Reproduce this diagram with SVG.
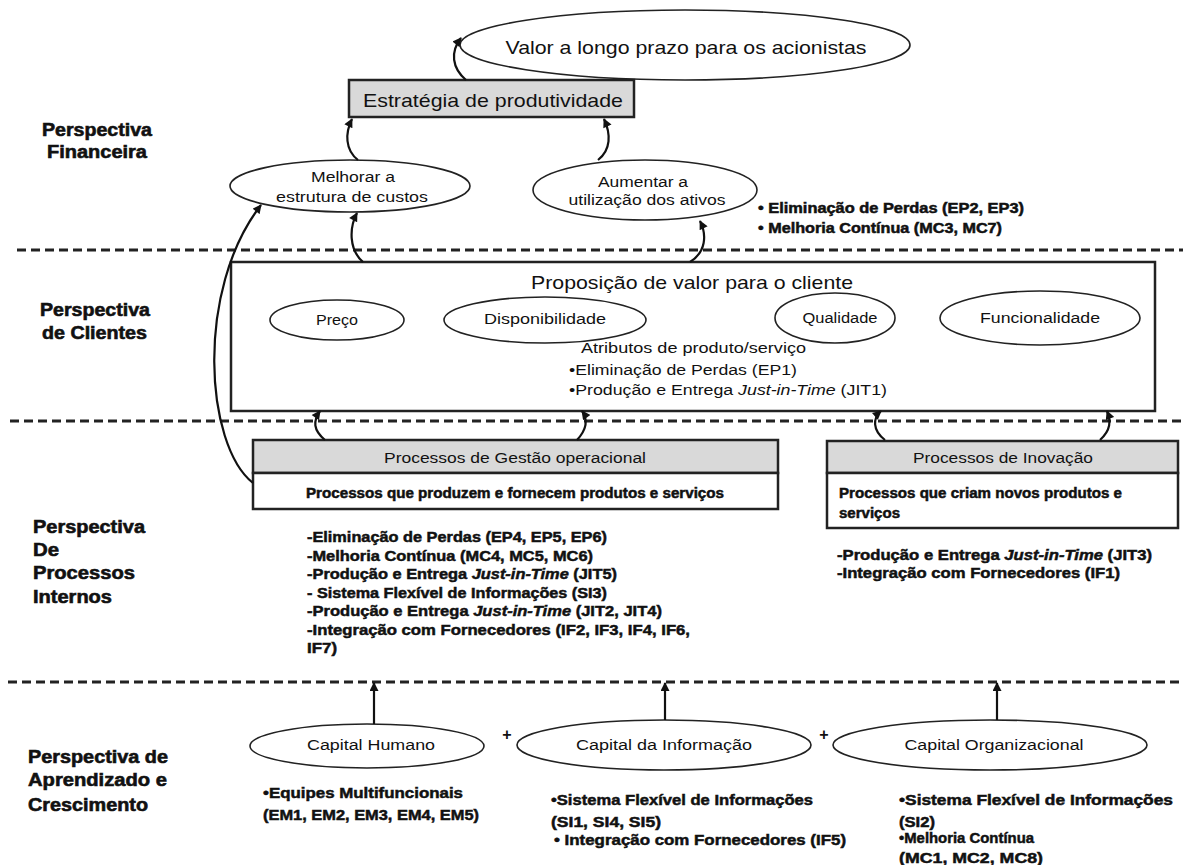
<svg xmlns="http://www.w3.org/2000/svg" width="1183" height="865" viewBox="0 0 1183 865">
<defs>
<marker id="ah" viewBox="0 0 10 10" refX="9" refY="5" markerWidth="10" markerHeight="9" markerUnits="userSpaceOnUse" orient="auto">
<path d="M0,0 L10,5 L0,10 z" fill="#111"/>
</marker>
<style>
text{font-family:"Liberation Sans",Arial,sans-serif;fill:#111}
.lbl{font-size:18px;font-weight:bold;stroke:#111;stroke-width:0.6}
.reg{font-size:14px}
.big{font-size:19px}
.b{font-size:15px;font-weight:bold;stroke:#111;stroke-width:0.5}
.bs{font-size:14px;font-weight:bold;stroke:#111;stroke-width:0.5}
.ell{fill:#fff;stroke:#222;stroke-width:1.6}
.box{fill:#fff;stroke:#222;stroke-width:2.5}
.gray{fill:#d9d9d9;stroke:#222;stroke-width:2.5}
.dash{stroke:#222;stroke-width:3;stroke-dasharray:9,5;fill:none}
.con{fill:none;stroke:#111;stroke-width:2.2;marker-end:url(#ah)}
</style>
</defs>
<rect width="1183" height="865" fill="#fff"/>

<g id="separators">
<line class="dash" x1="17" y1="250" x2="1183" y2="250"/>
<line class="dash" x1="10" y1="421" x2="1183" y2="421"/>
<line class="dash" x1="8" y1="682" x2="1183" y2="682"/>
</g>

<g id="perspective-labels">
<text class="lbl" x="97" y="136" text-anchor="middle" textLength="110" lengthAdjust="spacingAndGlyphs">Perspectiva</text>
<text class="lbl" x="97" y="158" text-anchor="middle" textLength="100" lengthAdjust="spacingAndGlyphs">Financeira</text>
<text class="lbl" x="40" y="316" textLength="110" lengthAdjust="spacingAndGlyphs">Perspectiva</text>
<text class="lbl" x="42" y="339" textLength="105" lengthAdjust="spacingAndGlyphs">de Clientes</text>
<text class="lbl" x="33" y="533" textLength="112" lengthAdjust="spacingAndGlyphs">Perspectiva</text>
<text class="lbl" x="33" y="556" textLength="26" lengthAdjust="spacingAndGlyphs">De</text>
<text class="lbl" x="33" y="579" textLength="102" lengthAdjust="spacingAndGlyphs">Processos</text>
<text class="lbl" x="33" y="603" textLength="79" lengthAdjust="spacingAndGlyphs">Internos</text>
<text class="lbl" x="28" y="763" textLength="140" lengthAdjust="spacingAndGlyphs">Perspectiva de</text>
<text class="lbl" x="28" y="786" textLength="139" lengthAdjust="spacingAndGlyphs">Aprendizado e</text>
<text class="lbl" x="28" y="811" textLength="120" lengthAdjust="spacingAndGlyphs">Crescimento</text>
</g>

<g id="valor">
<ellipse class="ell" cx="685" cy="45" rx="225" ry="35"/>
<text class="big" x="686" y="54" text-anchor="middle" font-size="20" textLength="361" lengthAdjust="spacingAndGlyphs">Valor a longo prazo para os acionistas</text>
</g>

<g id="estrategia">
<rect class="gray" x="349" y="80" width="285" height="37"/>
<text class="big" x="493" y="107" text-anchor="middle" textLength="260" lengthAdjust="spacingAndGlyphs">Estratégia de produtividade</text>
</g>

<g id="melhorar">
<ellipse class="ell" cx="350" cy="186" rx="120" ry="26"/>
<text class="reg" x="353" y="182" text-anchor="middle" textLength="84" lengthAdjust="spacingAndGlyphs">Melhorar a</text>
<text class="reg" x="352" y="202" text-anchor="middle" textLength="152" lengthAdjust="spacingAndGlyphs">estrutura de custos</text>
</g>

<g id="aumentar">
<ellipse class="ell" cx="645" cy="190" rx="112" ry="30"/>
<text class="reg" x="643" y="187" text-anchor="middle" textLength="90" lengthAdjust="spacingAndGlyphs">Aumentar a</text>
<text class="reg" x="647" y="205" text-anchor="middle" textLength="157" lengthAdjust="spacingAndGlyphs">utilização dos ativos</text>
</g>

<g id="financeira-notes">
<text class="bs" x="758" y="213" textLength="266" lengthAdjust="spacingAndGlyphs">• Eliminação de Perdas (EP2, EP3)</text>
<text class="bs" x="758" y="233" textLength="244" lengthAdjust="spacingAndGlyphs">• Melhoria Contínua (MC3, MC7)</text>
</g>

<g id="proposicao">
<rect class="box" x="231" y="262" width="924" height="149"/>
<text class="big" x="692" y="289" text-anchor="middle" textLength="322" lengthAdjust="spacingAndGlyphs">Proposição de valor para o cliente</text>
<text class="reg" x="581" y="353" textLength="225" lengthAdjust="spacingAndGlyphs">Atributos de produto/serviço</text>
<text class="reg" x="569" y="375" textLength="228" lengthAdjust="spacingAndGlyphs">•Eliminação de Perdas (EP1)</text>
<text class="reg" x="569" y="395" textLength="318" lengthAdjust="spacingAndGlyphs">•Produção e Entrega <tspan font-style="italic">Just-in-Time</tspan> (JIT1)</text>
</g>

<g id="preco">
<ellipse class="ell" cx="337" cy="320" rx="67" ry="20"/>
<text class="reg" x="337" y="325" text-anchor="middle" textLength="42" lengthAdjust="spacingAndGlyphs">Preço</text>
</g>
<g id="disponibilidade">
<ellipse class="ell" cx="545" cy="320" rx="101" ry="23"/>
<text class="reg" x="545" y="324" text-anchor="middle" textLength="122" lengthAdjust="spacingAndGlyphs">Disponibilidade</text>
</g>
<g id="qualidade">
<ellipse class="ell" cx="835" cy="318" rx="60" ry="25"/>
<text class="reg" x="840" y="323" text-anchor="middle" textLength="75" lengthAdjust="spacingAndGlyphs">Qualidade</text>
</g>
<g id="funcionalidade">
<ellipse class="ell" cx="1040" cy="318" rx="100" ry="27"/>
<text class="reg" x="1040" y="323" text-anchor="middle" textLength="120" lengthAdjust="spacingAndGlyphs">Funcionalidade</text>
</g>

<g id="gestao">
<rect class="gray" x="253" y="440" width="525" height="33"/>
<rect class="box" x="253" y="473" width="525" height="36"/>
<text class="reg" x="515" y="463" text-anchor="middle" textLength="262" lengthAdjust="spacingAndGlyphs">Processos de Gestão operacional</text>
<text class="bs" x="515" y="498" text-anchor="middle" textLength="418" lengthAdjust="spacingAndGlyphs">Processos que produzem e fornecem produtos e serviços</text>
</g>

<g id="gestao-notes">
<text class="b" x="307" y="542" textLength="300" lengthAdjust="spacingAndGlyphs">-Eliminação de Perdas (EP4, EP5, EP6)</text>
<text class="b" x="307" y="560.5" textLength="286" lengthAdjust="spacingAndGlyphs">-Melhoria Contínua (MC4, MC5, MC6)</text>
<text class="b" x="307" y="579" textLength="310" lengthAdjust="spacingAndGlyphs">-Produção e Entrega <tspan font-style="italic">Just-in-Time</tspan> (JIT5)</text>
<text class="b" x="307" y="597.5" textLength="300" lengthAdjust="spacingAndGlyphs">- Sistema Flexível de Informações (SI3)</text>
<text class="b" x="307" y="616" textLength="355" lengthAdjust="spacingAndGlyphs">-Produção e Entrega <tspan font-style="italic">Just-in-Time</tspan> (JIT2, JIT4)</text>
<text class="b" x="307" y="634.5" textLength="383" lengthAdjust="spacingAndGlyphs">-Integração com Fornecedores (IF2, IF3, IF4, IF6,</text>
<text class="b" x="307" y="653" textLength="30" lengthAdjust="spacingAndGlyphs">IF7)</text>
</g>

<g id="inovacao">
<rect class="gray" x="827" y="441" width="351" height="32"/>
<rect class="box" x="827" y="473" width="351" height="55"/>
<text class="reg" x="1003" y="463" text-anchor="middle" textLength="180" lengthAdjust="spacingAndGlyphs">Processos de Inovação</text>
<text class="bs" x="839" y="498" textLength="283" lengthAdjust="spacingAndGlyphs">Processos que criam novos produtos e</text>
<text class="bs" x="839" y="518" textLength="61" lengthAdjust="spacingAndGlyphs">serviços</text>
</g>

<g id="inovacao-notes">
<text class="b" x="837" y="560" textLength="315" lengthAdjust="spacingAndGlyphs">-Produção e Entrega <tspan font-style="italic">Just-in-Time</tspan> (JIT3)</text>
<text class="b" x="837" y="578" textLength="283" lengthAdjust="spacingAndGlyphs">-Integração com Fornecedores (IF1)</text>
</g>

<g id="capital-humano">
<ellipse class="ell" cx="367" cy="746" rx="117" ry="22"/>
<text class="reg" x="371" y="750" text-anchor="middle" textLength="128" lengthAdjust="spacingAndGlyphs">Capital Humano</text>
</g>
<g id="capital-informacao">
<ellipse class="ell" cx="664" cy="745" rx="147" ry="25"/>
<text class="reg" x="664" y="750" text-anchor="middle" textLength="176" lengthAdjust="spacingAndGlyphs">Capital da Informação</text>
</g>
<g id="capital-organizacional">
<ellipse class="ell" cx="990" cy="745" rx="157" ry="25"/>
<text class="reg" x="994" y="750" text-anchor="middle" textLength="179" lengthAdjust="spacingAndGlyphs">Capital Organizacional</text>
</g>

<g id="plus-signs">
<text x="507" y="740" text-anchor="middle" font-size="16" font-weight="bold">+</text>
<text x="824" y="740" text-anchor="middle" font-size="16" font-weight="bold">+</text>
</g>

<g id="aprendizado-notes">
<text class="b" x="263" y="798" textLength="200" lengthAdjust="spacingAndGlyphs">•Equipes Multifuncionais</text>
<text class="b" x="263" y="820" textLength="216" lengthAdjust="spacingAndGlyphs">(EM1, EM2, EM3, EM4, EM5)</text>
<text class="b" x="551" y="805" textLength="262" lengthAdjust="spacingAndGlyphs">•Sistema Flexível de Informações</text>
<text class="b" x="551" y="827" textLength="110" lengthAdjust="spacingAndGlyphs">(SI1, SI4, SI5)</text>
<text class="b" x="554" y="845" textLength="292" lengthAdjust="spacingAndGlyphs">• Integração com Fornecedores (IF5)</text>
<text class="b" x="899" y="805" textLength="274" lengthAdjust="spacingAndGlyphs">•Sistema Flexível de Informações</text>
<text class="b" x="899" y="827" textLength="36" lengthAdjust="spacingAndGlyphs">(SI2)</text>
<text class="b" x="899" y="843" textLength="135" lengthAdjust="spacingAndGlyphs">•Melhoria Contínua</text>
<text class="b" x="899" y="863" textLength="144" lengthAdjust="spacingAndGlyphs">(MC1, MC2, MC8)</text>
</g>

<g id="connectors">
<path class="con" d="M466,80 C452,68 450,52 461,38"/>
<path class="con" d="M358,160 C345,150 345,133 352,119"/>
<path class="con" d="M598,160 C611,150 611,134 604,119"/>
<path class="con" d="M363,262 C349,250 349,228 357,213"/>
<path class="con" d="M690,262 C706,252 707,235 700,221"/>
<path class="con" d="M253,483 C205,445 195,290 261,205"/>
<path class="con" d="M325,440 C313,430 313,421 320,411"/>
<path class="con" d="M577,440 C588,428 587,418 582,411"/>
<path class="con" d="M885,440 C872,430 873,418 881,411"/>
<path class="con" d="M1100,440 C1111,430 1111,421 1107,411"/>
<path class="con" d="M374,724 L374,683"/>
<path class="con" d="M665,720 L665,683"/>
<path class="con" d="M997,720 L997,683"/>
</g>
</svg>
